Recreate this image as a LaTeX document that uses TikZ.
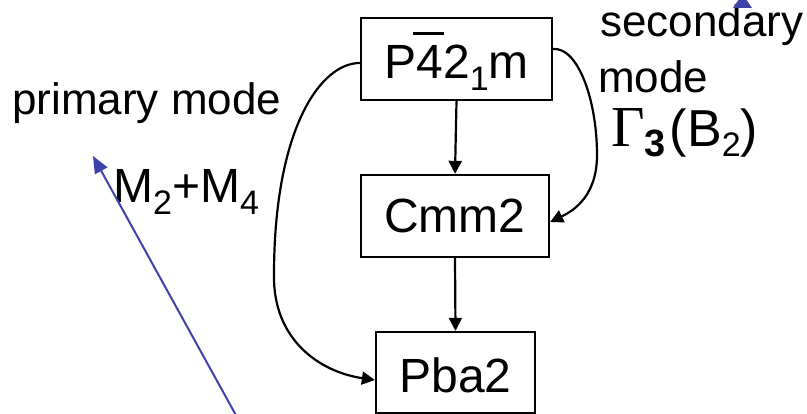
\documentclass[tikz,border=0pt]{standalone}
\usepackage{fontspec}
\setmainfont{Liberation Sans}
\newfontfamily\gamfont{Liberation Serif}
\usetikzlibrary{arrows.meta}
\definecolor{modeblue}{RGB}{62,66,170}
\newcommand{\fsz}[1]{\fontsize{#1}{#1}\selectfont}
\newcommand{\lowsub}[1]{\raisebox{-12pt}{\fsz{34}#1}}
\begin{document}
\begin{tikzpicture}[x=1pt,y=-1pt,
  box/.style={draw,line width=2.3pt,inner sep=0pt,text depth=0pt,font=\fsz{48}},
  conn/.style={line width=2.2pt,-{Triangle[length=13pt,width=13pt]}},
  lbl/.style={inner sep=0pt,anchor=base west},
  bluearrow/.style={draw=modeblue,line width=2pt,-{Triangle[length=17pt,width=14pt]}}]
\fill[white] (0,0) rectangle (807,414);
\useasboundingbox (0,0) rectangle (807,414);
% boxes
\node[box,minimum width=191pt,minimum height=82pt,text height=40pt] (b1) at (456.5,59)
  {P\rlap{\kern-3.5pt\rule[44pt]{31pt}{2.5pt}}42\lowsub{1}m};
\node[box,minimum width=188pt,minimum height=82pt,text height=34pt] (b2) at (455,216) {Cmm2};
\node[box,minimum width=159pt,minimum height=81pt,text height=41pt] (b3) at (455.5,372.5) {Pba2};
% connectors
\draw[conn] (b1.south) -- (b2.north);
\draw[conn] (b2.south) -- (b3.north);
\coordinate (c1) at (274,275);
\coordinate (c2) at (597,155);
\draw[conn] ([yshift=-4pt]b1.west) .. controls (320,63) and (274,130) .. (c1)
  .. controls (273,340) and (320,372) .. ([yshift=-7.5pt]b3.west);
\draw[conn] ([yshift=10pt]b1.east) .. controls (578,47) and (597,100) .. (c2)
  .. controls (597,195) and (575,210) .. ([yshift=-6pt]b2.east);
% labels
\node[lbl,font=\fsz{44}] (pm) at (12,115) {primary mode};
\node[lbl,font=\fsz{44}] (sec) at (600,37) {secondary};
\node[lbl,font=\fsz{44}] (mode) at (598,93) {mode};
\node[lbl] (gam) at (611,147) {{\gamfont\fsz{58}Γ}{\bfseries\fsz{38}\raisebox{-10pt}{3}}\kern4pt{\fsz{52}(B\raisebox{-10pt}{\fsz{34}2})}};
\node[lbl,font=\fsz{48}] (mm) at (113,203) {M\lowsub{2}+M\lowsub{4}};
% blue arrows
\coordinate (blbot) at (237.5,418);
\coordinate (bltop) at (93,156);
\draw[bluearrow] (blbot) -- (bltop);
\fill[modeblue] (733,8) -- (742.5,-6) -- (752,8) -- cycle;
\end{tikzpicture}
\end{document}
